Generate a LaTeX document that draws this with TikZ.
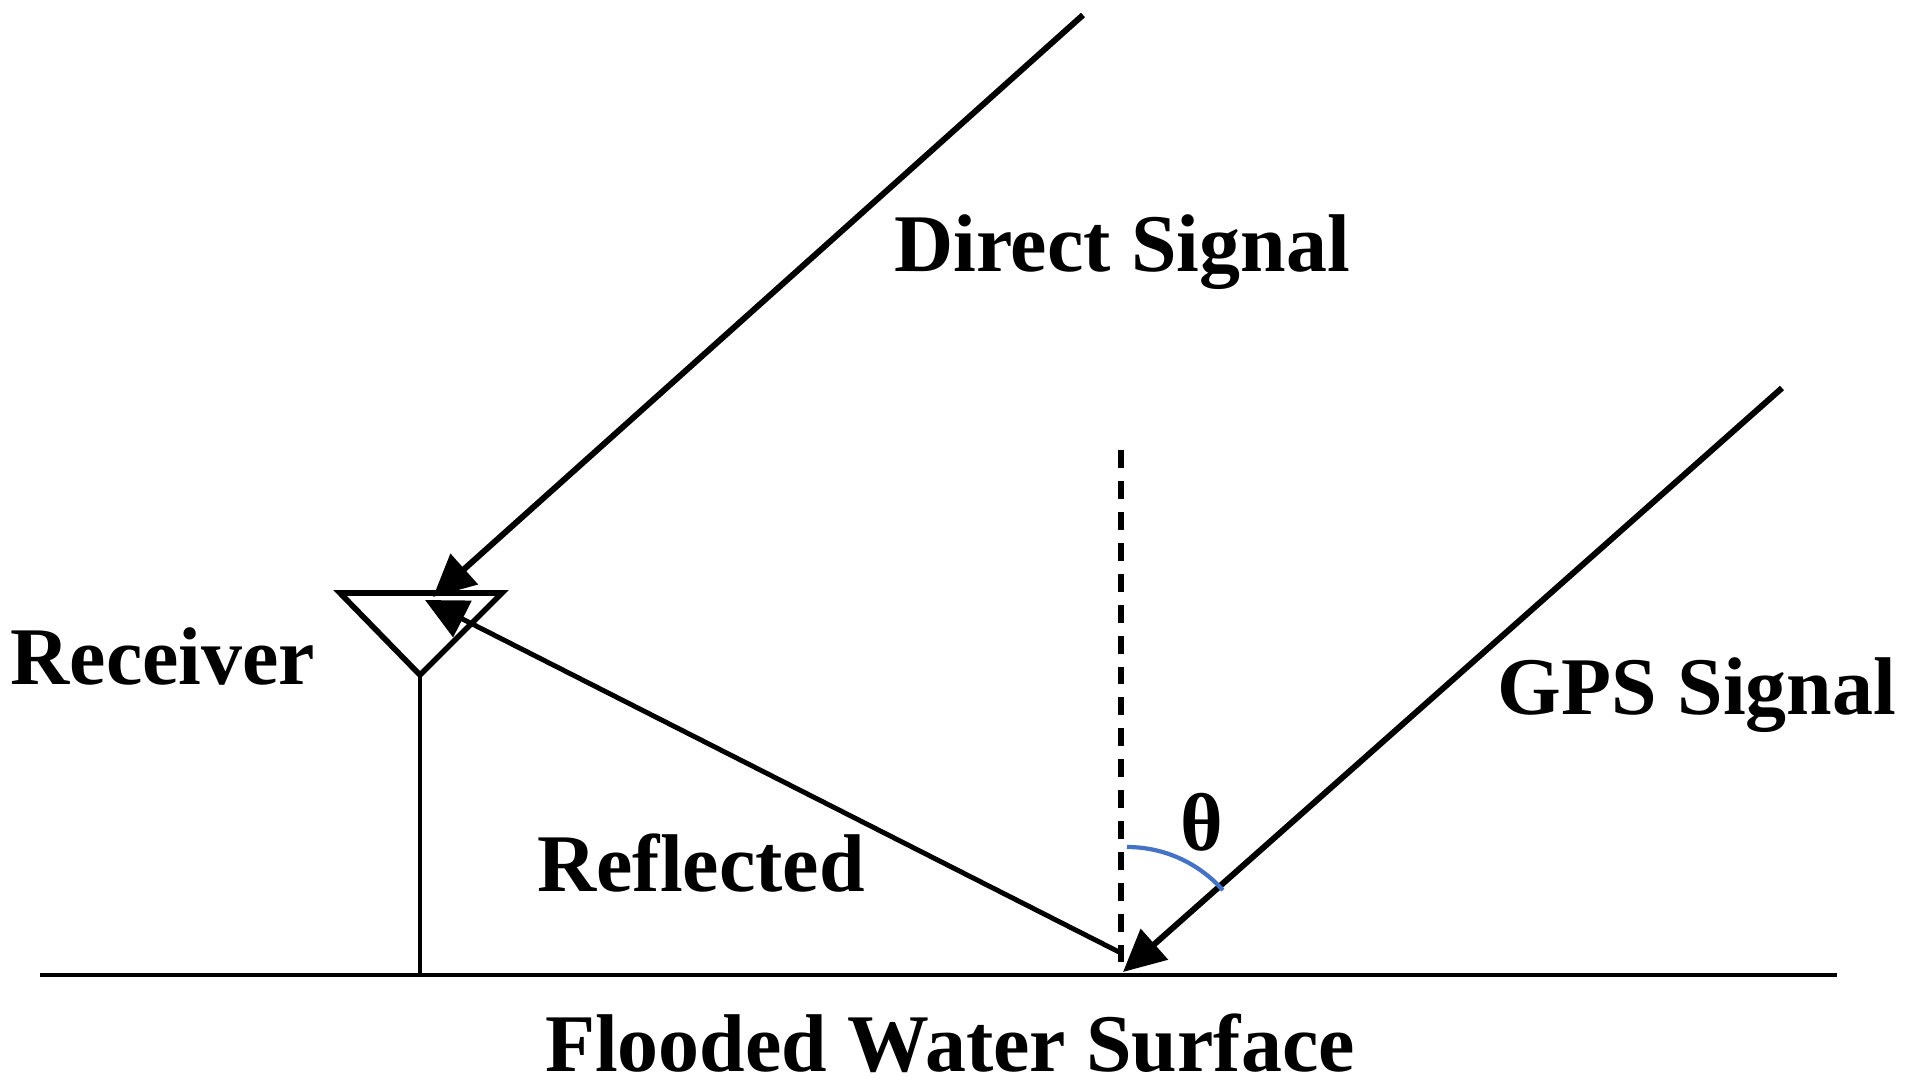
\documentclass[tikz,border=0pt]{standalone}
\usepackage{fontspec}
\setmainfont{Liberation Serif}
\usetikzlibrary{arrows.meta, positioning}
\definecolor{arcblue}{RGB}{68,114,196}

\begin{document}
\begin{tikzpicture}[
  every node/.style={align=center, font=\fontsize{23.3}{28}\selectfont\bfseries},
  sig/.style={-{Triangle[length=4.2mm, width=4.0mm]}, line width=1.7pt, draw=black},
  refl/.style={-{Triangle[length=4.2mm, width=4.0mm]}, line width=1.4pt, draw=black},
  ground/.style={line width=1.2pt, draw=black},
  mast/.style={line width=1.0pt, draw=black},
  antenna/.style={line width=1.6pt, draw=black, line join=miter},
  normal/.style={line width=1.6pt, dash pattern=on 5.1pt off 3.7pt},
  angarc/.style={line width=1.2pt, draw=arcblue},
]
\useasboundingbox (0,0) rectangle (19.13,10.90);

% ---------------------------------------------------------------- geometry
\coordinate (gl)    at (0.40,1.15);
\coordinate (gr)    at (18.37,1.15);
\coordinate (tl)    at (3.40,4.97);
\coordinate (tr)    at (5.02,4.97);
\coordinate (apex)  at (4.20,4.15);
\coordinate (foot)  at (4.20,1.15);
\coordinate (dsrc)  at (10.83,10.75);
\coordinate (dtip)  at (4.33,4.93);
\coordinate (rsrc)  at (11.21,1.37);
\coordinate (rtip)  at (4.25,4.90);
\coordinate (gsrc)  at (17.82,7.02);
\coordinate (gtip)  at (11.23,1.18);
\coordinate (ntop)  at (11.21,6.40);
\coordinate (nbot)  at (11.21,1.28);

% ---------------------------------------------------------------- ground + receiver
\draw[ground] (gl) -- (gr);
\draw[mast] (apex) -- (foot);
\draw[antenna] (tl) -- (tr) -- (apex) -- cycle;

% ---------------------------------------------------------------- signals
\draw[sig] (dsrc) -- (dtip);
\draw[sig] (gsrc) -- (gtip);
\draw[refl] (rsrc) -- (rtip);
\draw[normal] (ntop) -- (nbot);
\draw[angarc] (11.27,2.43) arc[start angle=90, end angle=41.5, radius=1.28];

% ---------------------------------------------------------------- labels
\node (direct)   at (11.22,8.38) {Direct Signal};
\node (receiver) at (1.63,4.34)  {Receiver};
\node (gps)      at (16.97,3.95) {GPS Signal};
\node (reflect)  at (7.01,2.27)  {Reflected};
\node (theta)    at (12.02,2.68) {θ};
\node (surface)  at (9.50,0.47)  {Flooded Water Surface};

\end{tikzpicture}
\end{document}
